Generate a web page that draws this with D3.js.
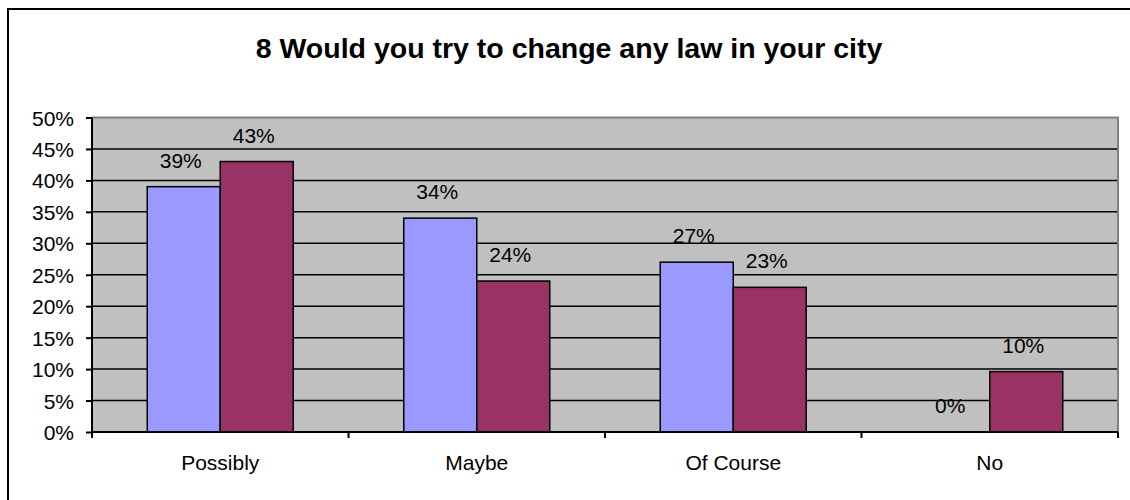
<!DOCTYPE html>
<html><head><meta charset="utf-8">
<script src="https://cdn.jsdelivr.net/npm/d3@7"></script>
<style>body{margin:0;background:#fff}svg{display:block}text{font-family:"Liberation Sans",Arial,sans-serif}</style>
</head><body>
<svg id="c" width="1130" height="500"></svg>
<script>
const title = "8 Would you try to change any law in your city";
const categories = ["Possibly", "Maybe", "Of Course", "No"];
const seriesA = [39, 34, 27, 0];
const seriesB = [43, 24, 23, 9.6];
const yTicks = [0,5,10,15,20,25,30,35,40,45,50];
const colors = ["#9999FF", "#993366"];

const svg = d3.select("#c");
const L = 92, R = 1118, T = 117.5, B = 432;

svg.append("rect").attr("x",8).attr("y",9).attr("width",1140).attr("height",520)
  .attr("fill","#fff").attr("stroke","#000").attr("stroke-width",2);

svg.append("text").attr("x",569).attr("y",58).attr("text-anchor","middle")
  .attr("font-size",28.5).attr("font-weight","bold").text(title);

const x = d3.scaleBand().domain(categories).range([L,R]);
const y = d3.scaleLinear().domain([0,50]).range([B,T]);

svg.append("rect").attr("x",L).attr("y",T).attr("width",R-L).attr("height",B-T).attr("fill","#C0C0C0");

// gridlines
svg.append("g").selectAll("line").data(yTicks.filter(d=>d>0 && d<50)).join("line")
  .attr("x1",L).attr("x2",R).attr("y1",d=>y(d)).attr("y2",d=>y(d))
  .attr("stroke","#000").attr("stroke-width",1.5);
// plot border top/right
svg.append("path").attr("d",`M${L},${T}H${R}V${B}`).attr("fill","none").attr("stroke","#808080").attr("stroke-width",2);

const barW = x.bandwidth()*146/256.5/2;
const off = (x.bandwidth()-2*barW)/2;
const data = [];
categories.forEach((c,i)=>{
  data.push({c, s:0, v:seriesA[i]});
  data.push({c, s:1, v:seriesB[i]});
});
const bx = d=>x(d.c)+off+d.s*barW;
svg.append("g").selectAll("rect").data(data.filter(d=>d.v>0)).join("rect")
  .attr("x",bx).attr("y",d=>y(d.v)).attr("width",barW).attr("height",d=>B-y(d.v))
  .attr("fill",d=>colors[d.s]).attr("stroke","#000").attr("stroke-width",1.5);

svg.append("g").selectAll("text").data(data).join("text")
  .attr("x",d=>bx(d)+barW/2-3).attr("y",d=>y(d.v)-19).attr("text-anchor","middle")
  .attr("font-size",21).attr("fill","#000").text(d=>Math.round(d.v)+"%");

// y axis
const ya = svg.append("g").attr("transform",`translate(${L},0)`)
  .call(d3.axisLeft(y).tickValues(yTicks).tickFormat(d=>d+"%").tickSize(6).tickPadding(12));
ya.select(".domain").attr("stroke","#000").attr("stroke-width",2).attr("d",`M0,${T}V${B}`);
ya.selectAll(".tick line").attr("stroke","#000").attr("stroke-width",2);
ya.selectAll(".tick text").attr("font-size",21).attr("fill","#000").attr("font-family",null).attr("dy","0.36em");

// x axis
const xa = svg.append("g").attr("transform",`translate(0,${B})`)
  .call(d3.axisBottom(x).tickSize(0).tickPadding(23));
xa.select(".domain").attr("stroke","#000").attr("stroke-width",2).attr("d",`M${L},0H${R}`);
xa.selectAll(".tick text").attr("font-size",21).attr("fill","#000").attr("font-family",null);
const bounds = categories.map(c=>x(c)).concat([R]);
xa.append("g").selectAll("line").data(bounds).join("line")
  .attr("x1",d=>d).attr("x2",d=>d).attr("y1",0).attr("y2",6).attr("stroke","#000").attr("stroke-width",2);
</script>
</body></html>
